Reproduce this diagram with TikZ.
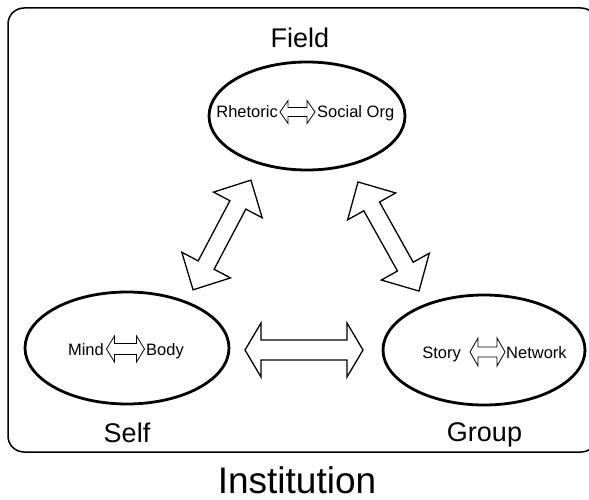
\documentclass[tikz,border=0pt]{standalone}
\usepackage{fontspec}
\setmainfont{Liberation Sans}
\usetikzlibrary{shapes.geometric}
\tikzset{
  oval/.style={ellipse, draw, line width=2.8pt, inner sep=0pt},
  bigarrow/.style={draw, line width=1.3pt, fill=white, line join=miter},
  smallarrow/.style={draw, line width=0.8pt, fill=white, line join=miter},
  innertext/.style={font=\fontsize{16.5}{18}\selectfont, inner sep=0pt},
  lbl/.style={font=\fontsize{27}{30}\selectfont, inner sep=0pt, anchor=base},
  framebox/.style={draw, line width=1.5pt, rounded corners=16pt}
}
% style, length, shaft width, head width, head length
\newcommand\blockarrow[5]{%
  \draw[#1] (-#2/2,0) -- (-#2/2+#5,#4/2) -- (-#2/2+#5,#3/2) -- (#2/2-#5,#3/2)
    -- (#2/2-#5,#4/2) -- (#2/2,0) -- (#2/2-#5,-#4/2) -- (#2/2-#5,-#3/2)
    -- (-#2/2+#5,-#3/2) -- (-#2/2+#5,-#4/2) -- cycle;}
\begin{document}
\begin{tikzpicture}[x=1pt,y=-1pt]
\useasboundingbox (0,0) rectangle (589,500);
\draw[framebox] (8,8) rectangle (597,452);

% ellipses
\node[oval, minimum width=196pt, minimum height=108pt] (field) at (307,116) {};
\node[oval, minimum width=204pt, minimum height=112pt] (self) at (127,348) {};
\node[oval, minimum width=202pt, minimum height=110pt] (group) at (484,350) {};

% labels
\node[lbl] (fieldlbl) at (300,48) {Field};
\node[lbl] (selflbl) at (127,442) {Self};
\node[lbl] (grouplbl) at (484.5,441) {Group};
\node[lbl, font=\fontsize{37}{40}\selectfont] (inst) at (297,493) {Institution};

% inner texts
\node[innertext, anchor=base east] (rhet) at (278,118) {Rhetoric};
\node[innertext, anchor=base west] (soc) at (317,118) {Social Org};
\node[innertext, anchor=base east] (mind) at (104,355) {Mind};
\node[innertext, anchor=base west] (body) at (146,355) {Body};
\node[innertext, anchor=base east] (story) at (461,358) {Story};
\node[innertext, anchor=base west] (net) at (506,358) {Network};

% inner arrows
\begin{scope}[shift={(297.5,112)}]\blockarrow{smallarrow}{35}{9}{23}{8}\end{scope}
\begin{scope}[shift={(125.5,349)}]\blockarrow{smallarrow}{38}{11}{26}{8}\end{scope}
\begin{scope}[shift={(487.5,352)}]\blockarrow{smallarrow}{35}{10}{28}{8}\end{scope}

% big arrows between ellipses
\begin{scope}[shift={(222,235)}, rotate=62.2]\blockarrow{bigarrow}{124}{18}{55}{28}\end{scope}
\begin{scope}[shift={(388.5,236.5)}, rotate=-60.8]\blockarrow{bigarrow}{125}{18}{55}{28}\end{scope}
\begin{scope}[shift={(304,350)}]\blockarrow{bigarrow}{118}{20}{54}{16}\end{scope}
\end{tikzpicture}
\end{document}
